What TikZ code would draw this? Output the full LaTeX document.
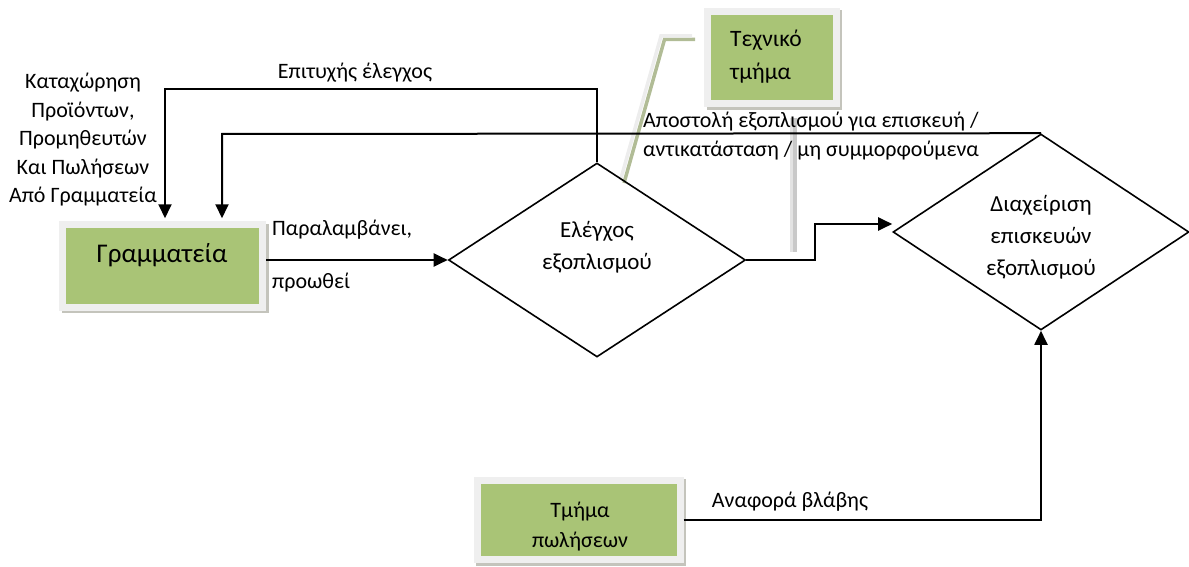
\documentclass[tikz,border=0pt]{standalone}
\usepackage{fontspec}
\setmainfont{Carlito}
\usetikzlibrary{arrows.meta,shapes.geometric}
\definecolor{boxgreen}{HTML}{A9C476}
\definecolor{framegray}{HTML}{EFEFEF}
\definecolor{shadowgray}{HTML}{C4C4BC}
\definecolor{calloutolive}{HTML}{B1BC96}
\definecolor{calloutlight}{HTML}{EDEDED}
\definecolor{calloutgray}{HTML}{C9C9C9}
\definecolor{calloutpale}{HTML}{E3E3E3}
\begin{document}
\begin{tikzpicture}[x=1pt,y=-1pt,
  txt/.style={font=\fontsize{22}{28.5}\selectfont, inner sep=0pt},
  bigtxt/.style={font=\fontsize{23}{32}\selectfont, inner sep=0pt},
  conn/.style={line width=2pt, line join=miter},
  arr/.style={conn, -{Triangle[length=14pt,width=13pt]}},
  deptbox/.style={draw=framegray, line width=7pt, fill=boxgreen, inner sep=0pt,
    preaction={draw=shadowgray, line width=7pt, transform canvas={shift={(2.5pt,-2.5pt)}}}},
  decision/.style={diamond, draw, line width=1.6pt, inner sep=0pt}]
\useasboundingbox (0,0) rectangle (1189,567);

% callout leaders of the technical department (pale stroke over a shifted shade)
\draw[calloutolive, line width=3.5pt] (695,39.5) -- (664.5,39.5) -- (624,183);
\draw[calloutlight, line width=3.5pt] (692,36) -- (661,36) -- (620.5,180);
\draw[calloutgray, line width=3.5pt] (795,118) -- (795,252);
\draw[calloutpale, line width=3.5pt] (791.5,118) -- (791.5,252);

% departments
\node[deptbox, minimum width=200pt, minimum height=82.5pt] (gram) at (162.5,266) {};
\node[deptbox, minimum width=128.5pt, minimum height=92.5pt] (tech) at (772,57.5) {};
\node[deptbox, minimum width=203pt, minimum height=79.5pt] (sales) at (578.5,520) {};
\node[font=\fontsize{27}{30}\selectfont, inner sep=0pt] (gramtxt) at (162,255) {Γραμματεία};
\node[font=\fontsize{23.5}{33}\selectfont, inner sep=0pt, align=left, anchor=west] (techtxt) at (730,56.5) {Τεχνικό\\τμήμα};
\node[font=\fontsize{22}{30}\selectfont, inner sep=0pt, align=center] (salestxt) at (580,527) {Τμήμα\\πωλήσεων};

% decisions
\node[decision, minimum width=297pt, minimum height=194pt] (check) at (597,260) {};
\node[decision, minimum width=296pt, minimum height=196pt] (repair) at (1041,232) {};
\node[bigtxt, align=center] (checktxt) at (597,247.5) {Ελέγχος\\εξοπλισμού};
\node[bigtxt, align=center] (repairtxt) at (1041,237.5) {Διαχείριση\\επισκευών\\εξοπλισμού};

% connectors
\coordinate (okturn) at (165,89);
\coordinate (backturn) at (222,134);
\coordinate (riseturn) at (815,260);
\coordinate (entry) at (815,224);
\draw[arr] (gram.east |- check.west) -- (check.west);
\draw[arr, shorten >=3pt] (check.north) |- (okturn) -- (okturn |- gram.north);
\draw[arr, shorten >=3pt] (repair.north) -- (backturn) -- (backturn |- gram.north);
\draw[arr] (check.east) -- (riseturn) -- (entry) -- (entry -| repair.west);
\draw[arr] (sales.east) -- (sales.east -| repair.south) -- (repair.south);

% labels
\node[txt, align=center] (lblreg) at (83,140) {Καταχώρηση\\Προϊόντων,\\Προμηθευτών\\Και Πωλήσεων\\Από Γραμματεία};
\node[txt] (lblok) at (355,73) {Επιτυχής έλεγχος};
\node[txt, anchor=west] (lblrecv) at (272,230) {Παραλαμβάνει,};
\node[txt, anchor=west] (lblfwd) at (272,283) {προωθεί};
\node[txt, anchor=west, align=left] (lblsend) at (643,136) {Αποστολή εξοπλισμού για επισκευή /\\αντικατάσταση / μη συμμορφούμενα};
\node[txt] (lblfault) at (790,502) {Αναφορά βλάβης};
\end{tikzpicture}
\end{document}
